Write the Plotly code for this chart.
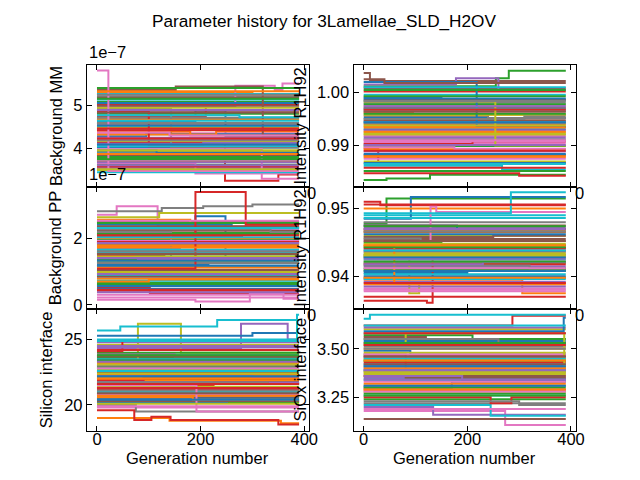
import plotly.graph_objects as go
from plotly.subplots import make_subplots

# matplotlib tab10 colour cycle
COLORS = ['#1f77b4', '#ff7f0e', '#2ca02c', '#d62728', '#9467bd',
          '#8c564b', '#e377c2', '#7f7f7f', '#bcbd22', '#17becf']

LAST_GEN = 390

# ----------------------------
# Chain start values + visible jumps (chain, generation, new value)
# ----------------------------
# Background MM (units of 1e-7)
bg_mm_start = [
    4.62, 3.71, 5.08, 4.13, 3.55, 4.87, 4.35, 5.21, 3.93, 4.51,
    4.02, 5.30, 3.62, 4.74, 4.21, 3.84, 4.96, 4.44, 3.50, 5.13,
    4.28, 4.68, 3.77, 5.02, 4.08, 4.57, 3.66, 4.91, 4.17, 5.26,
    3.89, 4.39, 4.80, 3.58, 4.25, 5.17, 3.98, 4.71, 4.48, 3.45,
    5.05, 4.32, 3.80, 4.85, 4.11, 5.35, 3.73, 4.59, 4.94, 4.05,
    3.95, 4.66, 5.40, 4.42, 3.68, 4.99, 5.80, 4.19, 3.52, 4.77,
    4.53, 3.87, 5.15, 4.23, 3.61, 4.83, 4.37, 5.24, 3.96, 4.64,
    4.09, 5.32, 3.75, 4.46, 4.89,
]
bg_mm_jumps = [
    (56, 22, 3.48), (45, 152, 5.43), (45, 320, 4.30), (16, 267, 5.45),
    (16, 343, 5.35), (16, 358, 5.50), (27, 143, 4.02), (0, 190, 4.88),
    (0, 248, 4.27), (36, 318, 3.30), (3, 247, 3.25), (3, 350, 3.40),
    (26, 190, 3.42), (43, 100, 4.05), (13, 210, 5.05),
    (20, 95, 4.33), (31, 180, 4.30), (41, 230, 4.40), (50, 115, 3.90),
    (59, 275, 4.72), (24, 205, 4.14), (66, 140, 4.30), (11, 300, 5.25),
]

# Background PP (units of 1e-7)
bg_pp_start = [
    1.42, 0.78, 2.15, 0.52, 1.88, 1.05, 2.70, 1.62, 0.95, 2.32,
    1.20, 1.75, 0.66, 2.05, 1.35, 2.48, 0.30, 2.80, 1.55, 0.88,
    2.40, 1.12, 1.95, 0.42, 1.70, 2.22, 0.60, 2.18, 1.28, 0.72,
    1.82, 2.55, 1.00, 1.48, 2.28, 0.84, 1.92, 1.16, 2.62, 1.58,
    0.48, 2.00, 1.38, 1.88, 0.92, 2.35, 0.15, 1.25, 2.10, 1.66,
    0.56, 1.78, 2.45, 1.08, 0.38, 1.52, 0.22, 2.26, 1.45, 2.02,
    1.32, 0.70, 2.12, 0.45, 1.85, 1.02, 2.52, 1.60, 0.98, 2.30,
    1.18, 1.72, 0.62, 2.08, 1.40,
]
bg_pp_jumps = [
    (53, 190, 3.38), (53, 287, 2.40), (17, 125, 2.90), (17, 205, 2.95),
    (17, 300, 3.00), (6, 38, 2.95), (6, 117, 2.35), (0, 190, 2.65),
    (0, 248, 1.35), (27, 143, 1.30), (46, 190, 0.10), (46, 295, 0.35),
    (46, 360, 0.18), (3, 102, 0.35), (38, 120, 2.75), (31, 180, 2.45),
    (20, 260, 2.30), (33, 130, 1.55), (42, 75, 1.45), (57, 335, 2.18),
    (10, 215, 1.26), (24, 160, 1.62), (61, 100, 0.76), (13, 280, 1.98),
]

# Silicon interface
si_start = [
    22.4, 19.0, 23.6, 21.2, 24.3, 20.6, 22.9, 21.8, 23.1, 25.7,
    20.2, 22.1, 24.0, 21.5, 23.3, 20.9, 19.8, 22.6, 24.6, 21.0,
    23.8, 22.3, 20.4, 24.2, 21.7, 23.0, 21.3, 20.0, 22.7, 23.5,
    25.3, 21.9, 22.0, 19.6, 24.8, 22.5, 20.8, 23.9, 21.4, 22.8,
    20.5, 23.2, 21.6, 24.1, 22.2, 23.7, 19.9, 21.1, 22.4, 25.0,
    23.4, 20.7, 22.9, 21.9, 24.4, 20.3, 21.5, 23.0, 20.1, 22.6,
    22.2, 20.6, 23.4, 21.3, 24.5, 20.9, 22.8, 21.7, 23.1, 24.9,
    20.4, 22.0, 23.8, 21.6, 23.3,
]
si_jumps = [
    (9, 45, 26.0), (9, 232, 26.5), (49, 386, 26.9), (8, 79, 26.2),
    (8, 162, 24.0), (4, 278, 26.2), (4, 368, 25.0), (43, 49, 24.9),
    (33, 72, 18.85), (33, 105, 19.1), (33, 142, 18.85), (33, 350, 18.5),
    (1, 140, 18.8), (1, 355, 18.6), (56, 192, 19.5), (27, 75, 19.5),
    (30, 300, 25.5),
    (0, 120, 22.3), (13, 225, 21.7), (22, 255, 20.2), (37, 150, 23.7),
    (44, 300, 22.1), (53, 90, 22.0), (61, 185, 20.4), (67, 330, 21.6),
]

# Intensity R1H92 (first)
int1_start = [
    0.9952, 0.9878, 1.0012, 0.9895, 0.9968, 1.0037, 0.9905, 0.9981, 0.9925, 0.9862,
    0.9991, 0.9940, 0.9835, 0.9972, 0.9889, 1.0008, 0.9918, 0.9956, 0.9870, 0.9985,
    0.9931, 0.9962, 0.9899, 1.0002, 0.9946, 0.9882, 0.9976, 0.9912, 0.9958, 0.9996,
    0.9867, 0.9936, 0.9978, 0.9903, 1.0015, 0.9948, 0.9875, 0.9965, 0.9921, 0.9944,
    1.0020, 0.9893, 0.9960, 0.9858, 0.9929, 0.9987, 0.9908, 0.9950, 0.9938, 0.9970,
    0.9884, 0.9926, 0.9993, 0.9848, 0.9915, 0.9964, 0.9897, 0.9942, 0.9983, 1.0010,
    0.9944, 0.9880, 1.0005, 0.9890, 0.9974, 1.0025, 0.9910, 0.9984, 0.9922, 0.9865,
    0.9989, 0.9934, 0.9852, 0.9968, 0.9901,
]
int1_jumps = [
    (2, 255, 1.0027), (2, 280, 1.0041), (5, 12, 1.0022), (34, 178, 1.0027),
    (34, 260, 1.0005), (40, 218, 0.9935), (58, 254, 0.9900), (12, 44, 0.9838),
    (12, 128, 0.9845), (3, 28, 0.9868), (9, 267, 0.9855), (53, 300, 0.9843),
    (10, 150, 0.9986), (21, 95, 0.9958), (33, 210, 0.9908), (47, 310, 0.9955),
    (56, 175, 0.9894), (65, 40, 1.0018), (17, 240, 0.9952),
]

# Intensity R1H92 (second)
int2_start = [
    0.9432, 0.9395, 0.9478, 0.9510, 0.9415, 0.9455, 0.9382, 0.9468, 0.9430, 0.9490,
    0.9405, 0.9445, 0.9420, 0.9364, 0.9472, 0.9398, 0.9440, 0.9412, 0.9460, 0.9425,
    0.9485, 0.9388, 0.9450, 0.9418, 0.9436, 0.9465, 0.9378, 0.9428, 0.9448, 0.9403,
    0.9475, 0.9500, 0.9410, 0.9442, 0.9392, 0.9458, 0.9422, 0.9480, 0.9434, 0.9396,
    0.9462, 0.9445, 0.9408, 0.9470, 0.9385, 0.9438, 0.9452, 0.9416, 0.9428, 0.9493,
    0.9400, 0.9466, 0.9443, 0.9390, 0.9426, 0.9475, 0.9412, 0.9456, 0.9432, 0.9438,
    0.9428, 0.9398, 0.9474, 0.9506, 0.9418, 0.9452, 0.9380, 0.9466, 0.9431, 0.9486,
    0.9408, 0.9446, 0.9422, 0.9370, 0.9470,
]
int2_jumps = [
    (49, 284, 0.9524), (2, 44, 0.9515), (20, 91, 0.9517), (3, 32, 0.9505),
    (13, 122, 0.9361), (13, 133, 0.9442), (41, 59, 0.9390), (1, 306, 0.9375),
    (46, 129, 0.9503), (46, 140, 0.9495), (8, 88, 0.9375), (8, 107, 0.9390),
    (10, 200, 0.9410), (22, 150, 0.9446), (35, 250, 0.9460), (47, 320, 0.9412),
    (57, 110, 0.9452), (64, 230, 0.9421), (30, 180, 0.9470),
]

# SiOx interface
siox_start = [
    3.42, 3.28, 3.55, 3.62, 3.35, 3.47, 3.18, 3.51, 3.38, 3.655,
    3.30, 3.45, 3.24, 3.53, 3.40, 3.139, 3.33, 3.58, 3.44, 3.26,
    3.49, 3.36, 3.57, 3.29, 3.46, 3.39, 3.52, 3.22, 3.60, 3.34,
    3.41, 3.50, 3.27, 3.43, 3.20, 3.56, 3.37, 3.31, 3.48, 3.21,
    3.54, 3.32, 3.44, 3.25, 3.61, 3.36, 3.47, 3.23, 3.52, 3.39,
    3.59, 3.40, 3.30, 3.46, 3.34, 3.42, 3.28, 3.55, 3.38, 3.45,
    3.41, 3.29, 3.53, 3.58, 3.36, 3.46, 3.19, 3.50, 3.37, 3.62,
    3.31, 3.44, 3.26, 3.52, 3.39,
]
siox_jumps = [
    (9, 12, 3.675), (3, 287, 3.67), (50, 386, 3.66), (48, 81, 3.58),
    (48, 387, 3.40), (5, 81, 3.35), (6, 273, 3.107), (34, 134, 3.16),
    (39, 245, 3.155), (43, 245, 3.22), (43, 285, 3.25),
    (10, 170, 3.33), (22, 210, 3.55), (35, 120, 3.53), (47, 300, 3.21),
    (57, 260, 3.52), (20, 90, 3.47), (64, 190, 3.34),
]

# ----------------------------
# Panel setup
# ----------------------------
panels = [
    # row, col, start, jumps, y range, tick values, tick text, label
    (1, 1, bg_mm_start, bg_mm_jumps, [3.11, 5.93], [4, 5], ['4', '5'], 'Background MM'),
    (1, 2, int1_start, int1_jumps, [0.9822, 1.0052], [0.99, 1.00], ['0.99', '1.00'], 'Intensity R1H92'),
    (2, 1, bg_pp_start, bg_pp_jumps, [-0.12, 3.53], [0, 2], ['0', '2'], 'Background PP'),
    (2, 2, int2_start, int2_jumps, [0.9352, 0.9532], [0.94, 0.95], ['0.94', '0.95'], 'Intensity R1H92'),
    (3, 1, si_start, si_jumps, [18.03, 27.35], [20, 25], ['20', '25'], 'Silicon interface'),
    (3, 2, siox_start, siox_jumps, [3.078, 3.7056], [3.25, 3.50], ['3.25', '3.50'], 'SiOx interface'),
]


def chain_paths(start, jumps):
    paths = []
    for i, v0 in enumerate(start):
        xs, ys = [0], [v0]
        for ch, g, v in sorted(jumps, key=lambda j: j[1]):
            if ch == i:
                xs.append(g)
                ys.append(v)
        xs.append(LAST_GEN)
        ys.append(ys[-1])
        paths.append((xs, ys))
    return paths


FONT = 'Liberation Sans'
FS = 16.5
fig = make_subplots(rows=3, cols=2)

x_dom = {1: [0.125, 0.4773], 2: [0.5477, 0.9]}
y_dom = {1: [0.62333, 0.88], 2: [0.36667, 0.62333], 3: [0.11, 0.36667]}

for row, col, start, jumps, yr, tv, tt, label in panels:
    for i, (xs, ys) in enumerate(chain_paths(start, jumps)):
        fig.add_trace(go.Scatter(
            x=xs, y=ys, mode='lines', line_shape='hv',
            line=dict(color=COLORS[i % 10], width=2),
            showlegend=False, hoverinfo='skip'
        ), row=row, col=col)

    fig.update_xaxes(
        domain=x_dom[col], range=[-19.5, 409.5], tickvals=[0, 200, 400],
        showticklabels=(row == 3),
        row=row, col=col
    )
    fig.update_yaxes(
        domain=y_dom[row], range=yr, tickvals=tv, ticktext=tt,
        row=row, col=col
    )

fig.update_xaxes(showgrid=False, zeroline=False, showline=True, linecolor='black',
                 linewidth=1.1, mirror='allticks', ticks='inside', ticklen=5,
                 tickwidth=1.1, tickcolor='black', ticklabelstandoff=-7,
                 tickfont=dict(size=FS, color='black'))
fig.update_yaxes(showgrid=False, zeroline=False, showline=True, linecolor='black',
                 linewidth=1.1, mirror='allticks', ticks='inside', ticklen=5,
                 tickwidth=1.1, tickcolor='black',
                 tickfont=dict(size=FS, color='black'))

annotations = [
    dict(text='Parameter history for 3Lamellae_SLD_H2OV', x=0.5, y=1 - 13 / 480,
         font=dict(size=17.2)),
    # offset texts
    dict(text='1e\u22127', x=80 / 640, y=1 - 44 / 480, xanchor='left', font=dict(size=FS)),
    dict(text='1e\u22127', x=80 / 640, y=1 - 168 / 480, xanchor='left', font=dict(size=FS)),
    # ends of the hidden x tick labels of rows 1 and 2
    dict(text='0', x=307.5 / 640, y=1 - 187 / 480, font=dict(size=FS)),
    dict(text='0', x=579.5 / 640, y=1 - 187 / 480, font=dict(size=FS)),
    dict(text='0', x=307.5 / 640, y=1 - 310 / 480, font=dict(size=FS)),
    dict(text='0', x=579.5 / 640, y=1 - 310 / 480, font=dict(size=FS)),
    # x axis titles
    dict(text='Generation number', x=192.5 / 640, y=1 - 455 / 480, font=dict(size=FS)),
    dict(text='Generation number', x=463 / 640, y=1 - 455 / 480, font=dict(size=FS)),
]
label_x = {(1, 1): 48, (2, 1): 48, (3, 1): 38, (1, 2): 296, (2, 2): 296, (3, 2): 296}
label_y = {1: 119, 2: 242.5, 3: 365.5}
for row, col, *_, label in panels:
    annotations.append(dict(text=label, textangle=-90,
                            x=label_x[(row, col)] / 640, y=1 - label_y[row] / 480,
                            font=dict(size=FS)))

for a in annotations:
    a.update(xref='paper', yref='paper', showarrow=False)
    a.setdefault('xanchor', 'center')
    a.setdefault('yanchor', 'middle')

fig.update_layout(
    width=640, height=480,
    margin=dict(l=0, r=0, t=0, b=0),
    paper_bgcolor='white', plot_bgcolor='white',
    font=dict(family=FONT, color='black'),
    annotations=annotations,
)

fig.write_html('out.html')
